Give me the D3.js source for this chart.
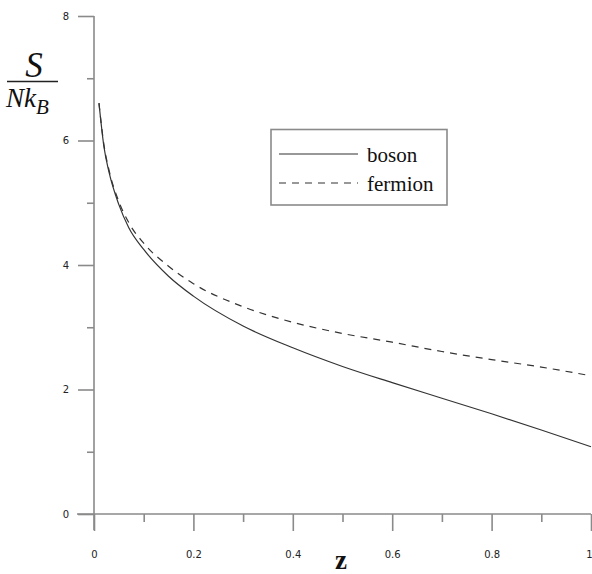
<!DOCTYPE html>
<html>
<head>
<meta charset="utf-8">
<script src="https://cdn.jsdelivr.net/npm/d3@7"></script>
<style>
  body { margin: 0; background: #fff; }
  svg { display: block; }
</style>
</head>
<body>
<svg id="chart" width="592" height="574"></svg>
<script>
// values
var zValues      = [0.01, 0.02, 0.03, 0.05, 0.07, 0.1, 0.15, 0.2, 0.3, 0.4, 0.5, 0.6, 0.7, 0.8, 0.9, 1.0];
var bosonValues  = [6.6, 5.9, 5.5, 4.97, 4.6, 4.25, 3.82, 3.5, 3.02, 2.67, 2.37, 2.11, 1.86, 1.61, 1.35, 1.08];
var fermionValues= [6.6, 5.93, 5.53, 5.02, 4.68, 4.35, 3.98, 3.70, 3.33, 3.08, 2.90, 2.76, 2.61, 2.48, 2.36, 2.22];

var xMajorTicks = [0, 0.2, 0.4, 0.6, 0.8, 1];
var xMinorTicks = [0.1, 0.3, 0.5, 0.7, 0.9];
var yMajorTicks = [0, 2, 4, 6, 8];
var yMinorTicks = [1, 3, 5, 7];

var seriesNames = ["boson", "fermion"];

var svg = d3.select("#chart");

var xScale = d3.scaleLinear().domain([0, 1]).range([94, 591]);
var yScale = d3.scaleLinear().domain([0, 8]).range([514, 16]);

var axisColor = "#8a8a8a";
var lineColor = "#333";
var tickFont = "'DejaVu Sans', Verdana, sans-serif";
var serif = "'Liberation Serif', 'Times New Roman', serif";

// axis lines (they cross at the origin)
svg.append("line")
  .attr("x1", xScale(0) - 17).attr("x2", xScale(1))
  .attr("y1", yScale(0)).attr("y2", yScale(0))
  .attr("stroke", axisColor).attr("stroke-width", 1.6);

svg.append("line")
  .attr("x1", xScale(0)).attr("x2", xScale(0))
  .attr("y1", yScale(8)).attr("y2", yScale(0) + 16)
  .attr("stroke", axisColor).attr("stroke-width", 1.6);

// x axis ticks
var xAxis = d3.axisBottom(xScale)
  .tickValues(xMajorTicks)
  .tickSize(17)
  .tickPadding(20)
  .tickFormat(function(d) { return d === 0 || d === 1 ? String(d) : d3.format(".1f")(d); });

var gx = svg.append("g")
  .attr("transform", "translate(0," + yScale(0) + ")")
  .call(xAxis);
gx.select(".domain").remove();
gx.selectAll(".tick line").attr("stroke", axisColor).attr("stroke-width", 1.6);
gx.selectAll(".tick text")
  .attr("fill", "#222")
  .style("font-family", tickFont)
  .style("font-size", "10px")
  .attr("text-anchor", function(d) { return d === 1 ? "end" : "middle"; })
  .attr("x", function(d) { return d === 1 ? 1 : 0; });

var gxMinor = svg.append("g")
  .attr("transform", "translate(0," + yScale(0) + ")")
  .call(d3.axisBottom(xScale).tickValues(xMinorTicks).tickSize(8).tickFormat(""));
gxMinor.select(".domain").remove();
gxMinor.selectAll(".tick line").attr("stroke", axisColor).attr("stroke-width", 1.6);

// y axis ticks
var gy = svg.append("g")
  .attr("transform", "translate(" + xScale(0) + ",0)")
  .call(d3.axisLeft(yScale).tickValues(yMajorTicks).tickSize(16).tickPadding(9));
gy.select(".domain").remove();
gy.selectAll(".tick line").attr("stroke", axisColor).attr("stroke-width", 1.6);
gy.selectAll(".tick text")
  .attr("fill", "#222")
  .style("font-family", tickFont)
  .style("font-size", "10px");

var gyMinor = svg.append("g")
  .attr("transform", "translate(" + xScale(0) + ",0)")
  .call(d3.axisLeft(yScale).tickValues(yMinorTicks).tickSize(7).tickFormat(""));
gyMinor.select(".domain").remove();
gyMinor.selectAll(".tick line").attr("stroke", axisColor).attr("stroke-width", 1.6);

// curves
var line = d3.line()
  .curve(d3.curveMonotoneX)
  .x(function(d) { return xScale(d.z); })
  .y(function(d) { return yScale(d.s); });

var bosonData = zValues.map(function(z, i) { return { z: z, s: bosonValues[i] }; });
var fermionData = zValues.map(function(z, i) { return { z: z, s: fermionValues[i] }; });

svg.append("path")
  .datum(fermionData)
  .attr("d", line)
  .attr("fill", "none")
  .attr("stroke", lineColor)
  .attr("stroke-width", 1.2)
  .attr("stroke-dasharray", "7,6");

svg.append("path")
  .datum(bosonData)
  .attr("d", line)
  .attr("fill", "none")
  .attr("stroke", lineColor)
  .attr("stroke-width", 1.2);

// legend
var legend = svg.append("g");
legend.append("rect")
  .attr("x", 271).attr("y", 129.5)
  .attr("width", 176).attr("height", 75.5)
  .attr("fill", "#fff")
  .attr("stroke", axisColor).attr("stroke-width", 1.6);

seriesNames.forEach(function(name, i) {
  var ly = 154 + i * 29;
  legend.append("line")
    .attr("x1", 279).attr("x2", 358)
    .attr("y1", ly).attr("y2", ly)
    .attr("stroke", lineColor).attr("stroke-width", 1.2)
    .attr("stroke-dasharray", i === 1 ? "7,6" : null);
  legend.append("text")
    .attr("x", 367).attr("y", ly + 8)
    .style("font-family", serif)
    .style("font-size", "21px")
    .attr("fill", "#111")
    .text(name);
});

// axis titles
svg.append("text")
  .attr("x", 341).attr("y", 569)
  .attr("text-anchor", "middle")
  .style("font-family", serif)
  .style("font-size", "27px")
  .style("font-weight", "bold")
  .attr("fill", "#111")
  .text("z");

svg.append("text")
  .attr("x", 34).attr("y", 77)
  .attr("text-anchor", "middle")
  .style("font-family", serif)
  .style("font-style", "italic")
  .style("font-size", "35px")
  .attr("fill", "#111")
  .text("S");

svg.append("line")
  .attr("x1", 7).attr("x2", 58)
  .attr("y1", 81.5).attr("y2", 81.5)
  .attr("stroke", "#222").attr("stroke-width", 1.4);

var den = svg.append("text")
  .attr("x", 6).attr("y", 106.5)
  .style("font-family", serif)
  .style("font-style", "italic")
  .style("font-size", "27px")
  .attr("fill", "#111");
den.append("tspan").text("Nk");
den.append("tspan")
  .attr("dy", 7)
  .style("font-size", "21px")
  .text("B");
</script>
</body>
</html>
